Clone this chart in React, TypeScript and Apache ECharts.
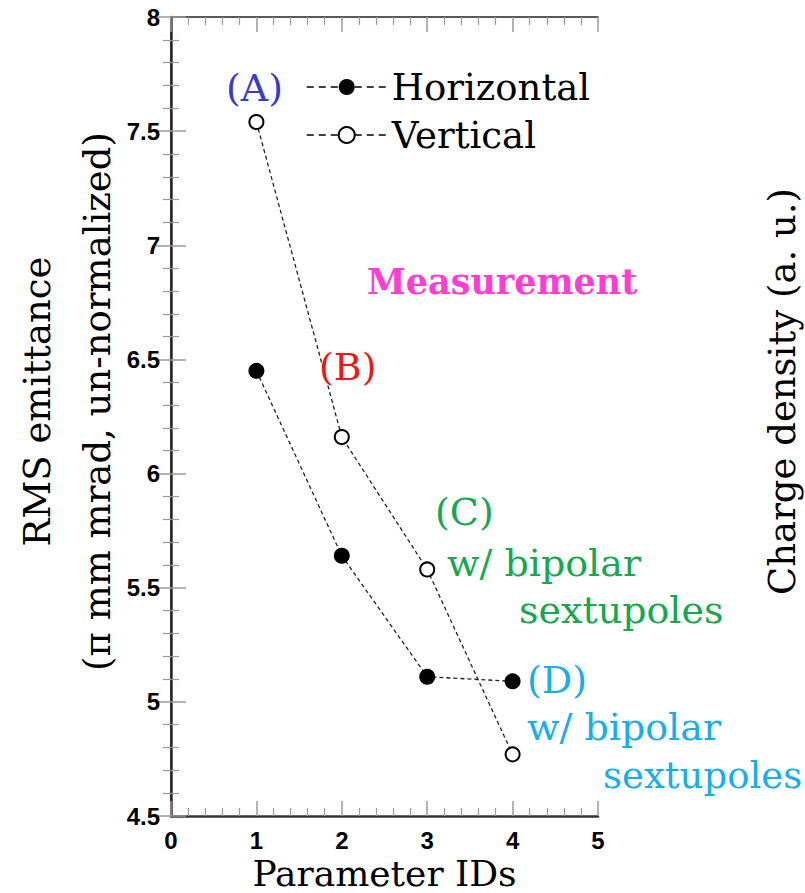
import React, { useEffect, useRef } from "react";
import * as echarts from "echarts";

// Parameter set IDs on the x axis
const paramIds = [1, 2, 3, 4];
// RMS emittance, horizontal plane (π mm mrad)
const horizontal = [6.45, 5.64, 5.11, 5.09];
// RMS emittance, vertical plane (π mm mrad)
const vertical = [7.54, 6.16, 5.58, 4.77];

const xTicks = { min: 0, max: 5, interval: 1 };
const yTicks = { min: 4.5, max: 8, interval: 0.5 };

const SERIF = "DejaVu Serif";
const SANS = "Liberation Sans";

function pairs(xs: number[], ys: number[]) {
  return xs.map((x, i) => [x, ys[i]]);
}

export default function App() {
  const ref = useRef<HTMLDivElement>(null);

  useEffect(() => {
    if (!ref.current) return;
    const chart = echarts.init(ref.current, null, { renderer: "svg" });

    const frameTick = {
      show: true,
      inside: true,
      length: 15,
      lineStyle: { color: "#9a9a9a", width: 1.5 },
    };
    const frameMinor = {
      show: true,
      splitNumber: 5,
      length: 8,
      lineStyle: { color: "#9a9a9a", width: 1.2 },
    };
    const tickLabel = {
      fontFamily: SANS,
      fontWeight: "bold" as const,
      fontSize: 24,
      color: "#000",
    };

    const text = (
      str: string,
      x: number,
      y: number,
      color: string,
      size: number,
      bold = false
    ) => ({
      type: "text",
      x,
      y,
      z: 10,
      style: {
        text: str,
        fill: color,
        font: `${bold ? "bold " : ""}${size}px "${SERIF}"`,
        textAlign: "left",
        textVerticalAlign: "middle",
      },
    });

    const blue = "#3b3bc8";
    const red = "#f41515";
    const magenta = "#ff3dd2";
    const green = "#16a84e";
    const cyan = "#17aeea";

    chart.setOption({
      animation: false,
      backgroundColor: "#fff",
      grid: {
        left: 171,
        right: 207,
        top: 17,
        bottom: 77,
        containLabel: false,
        outerBoundsMode: "none",
      },
      xAxis: [
        {
          type: "value",
          position: "bottom",
          ...xTicks,
          name: "Parameter IDs",
          nameLocation: "middle",
          nameMoveOverlap: false,
          nameGap: 40,
          nameTextStyle: {
            fontFamily: SERIF,
            fontSize: 36,
            lineHeight: 34,
            color: "#000",
          },
          axisLine: { show: true, lineStyle: { color: "#333", width: 2.5 } },
          axisTick: frameTick,
          minorTick: frameMinor,
          splitLine: { show: false },
          axisLabel: { ...tickLabel, margin: 12 },
        },
        {
          type: "value",
          position: "top",
          ...xTicks,
          axisLine: { show: true, lineStyle: { color: "#222", width: 1.5 } },
          axisTick: frameTick,
          minorTick: frameMinor,
          splitLine: { show: false },
          axisLabel: { show: false },
        },
      ],
      yAxis: [
        {
          type: "value",
          position: "left",
          ...yTicks,
          name: "RMS emittance\n(π mm mrad, un-normalized)",
          nameLocation: "middle",
          nameMoveOverlap: false,
          nameRotate: 90,
          nameGap: 44,
          nameTextStyle: {
            fontFamily: SERIF,
            fontSize: 37,
            lineHeight: 60,
            color: "#000",
            padding: [0, 0, 0, 30],
          },
          axisLine: { show: true, lineStyle: { color: "#333", width: 2.5 } },
          axisTick: frameTick,
          minorTick: frameMinor,
          splitLine: { show: false },
          axisLabel: {
            ...tickLabel,
            margin: 11,
            formatter: (v: number) => String(v),
          },
        },
        {
          type: "value",
          position: "right",
          ...yTicks,
          name: "Charge density (a. u.)",
          nameLocation: "middle",
          nameMoveOverlap: false,
          nameRotate: 90,
          nameGap: 166,
          nameTextStyle: {
            fontFamily: SERIF,
            fontSize: 37,
            color: "#000",
            padding: [0, 0, 0, 50],
          },
          axisLine: { show: true, lineStyle: { color: "#222", width: 1.5 } },
          axisTick: frameTick,
          minorTick: frameMinor,
          splitLine: { show: false },
          axisLabel: { show: false },
        },
      ],
      legend: {
        orient: "vertical",
        left: 301,
        top: 63,
        itemWidth: 80,
        itemHeight: 20,
        itemGap: 10,
        data: ["Horizontal", "Vertical"],
        lineStyle: { type: [7, 5], width: 1.5, color: "#000" },
        textStyle: {
          fontFamily: SERIF,
          fontSize: 37,
          lineHeight: 38,
          color: "#000",
        },
      },
      series: [
        {
          name: "Horizontal",
          type: "line",
          data: pairs(paramIds, horizontal),
          symbol: "circle",
          symbolSize: 16,
          itemStyle: { color: "#000" },
          lineStyle: { type: [4, 3], width: 1.3, color: "#222" },
          z: 3,
        },
        {
          name: "Vertical",
          type: "line",
          data: pairs(paramIds, vertical),
          symbol: "emptyCircle",
          symbolSize: 14,
          itemStyle: { color: "#000", borderWidth: 1.5 },
          lineStyle: { type: [4, 3], width: 1.3, color: "#222" },
          z: 3,
        },
      ],
      graphic: [
        text("(A)", 226, 88, blue, 38),
        text("Measurement", 367, 281, magenta, 35, true),
        text("(B)", 319, 367, red, 38),
        text("(C)", 435, 512, green, 38),
        text("w/ bipolar", 447, 563, green, 38),
        text("sextupoles", 519, 610, green, 38),
        text("(D)", 527, 680, cyan, 38),
        text("w/ bipolar", 527, 727, cyan, 38),
        text("sextupoles", 603, 775, cyan, 37),
      ],
    });

    return () => chart.dispose();
  }, []);

  return (
    <div
      ref={ref}
      style={{ position: "absolute", left: 0, top: 0, width: 805, height: 893 }}
    />
  );
}
